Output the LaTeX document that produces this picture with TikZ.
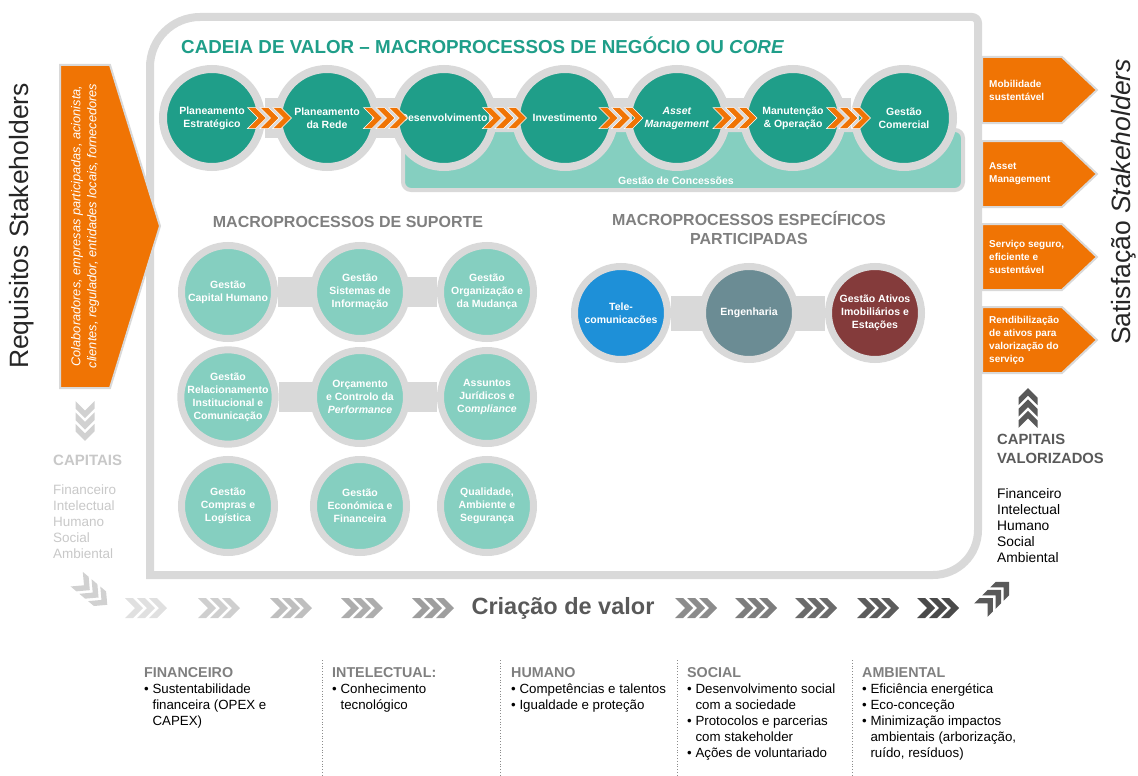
\documentclass[tikz,border=0pt]{standalone}
\usepackage{fontspec}
\setmainfont{Liberation Sans}
\usetikzlibrary{calc,backgrounds}
\definecolor{teal1}{HTML}{1F9E89}
\definecolor{teal2}{HTML}{85CFC0}
\definecolor{ring}{HTML}{D9D9D9}
\definecolor{orng}{HTML}{F07404}
\definecolor{telblue}{HTML}{1E90D8}
\definecolor{slate}{HTML}{6B8C94}
\definecolor{wine}{HTML}{843B3B}
\definecolor{txtgray}{HTML}{7F7F7F}
\definecolor{dgray}{HTML}{595959}
\definecolor{lgray}{HTML}{C8C8C8}
\newcommand{\itm}{\textbullet\ }
\newcommand{\ind}{\phantom{\textbullet\ }}
\newcommand{\hdr}{\bfseries\color{txtgray}\fontsize{14.3}{16}\selectfont}

\begin{document}
\begin{tikzpicture}[x=1pt,y=-1pt,
	core/.style={circle,fill=teal1,draw=ring,line width=8pt,minimum size=98pt,inner sep=0pt,text=white,align=center,font=\bfseries\fontsize{10.5}{13}\selectfont},
	supp/.style={core,fill=teal2,line width=7pt,minimum size=93pt},
	band/.style={draw=ring,line width=#1},
	frame/.style={draw=ring,line width=8pt},
	inarr/.style={fill=orng,draw=ring,line width=2pt},
	outtxt/.style={anchor=west,inner sep=0pt,text=white,align=left,font=\bfseries\fontsize{10}{13}\selectfont},
	head/.style={text=txtgray,align=center,font=\bfseries\fontsize{16}{19}\selectfont},
	col/.style={anchor=north west,inner sep=0pt,align=left,font=\fontsize{13.3}{16}\selectfont},
	chevs/.pic={\foreach \d in {-12,0,12} \path[pic actions] (\d-9,-10) -- (\d-1,-10) -- (\d+9,0) -- (\d-1,10) -- (\d-9,10) -- (\d+1,0) -- cycle;}]
\useasboundingbox (0,0) rectangle (1138,776);
\draw[frame] (150,575) -- (150,67) arc[start angle=180,end angle=270,radius=50] -- (972,17) arc[start angle=270,end angle=360,radius=6] -- (978,530) arc[start angle=0,end angle=90,radius=45] -- cycle;
\node[anchor=west,inner sep=0pt,text=teal1,font=\bfseries\fontsize{18.8}{22}\selectfont] (title) at (181,45) {CADEIA DE VALOR – MACROPROCESSOS DE NEGÓCIO OU \textit{CORE}};

\foreach \x/\t [count=\i] in {212/{Planeamento\\Estratégico},327/{Planeamento\\da Rede},444/Desenvolvimento,565/Investimento,677/{\textit{Asset}\\\textit{Management}},793/{Manutenção\\\& Operação},904/{Gestão\\Comercial}}
	\node[core] (c\i) at (\x,118) {\t};
\foreach \i in {1,...,6}{\pgfmathtruncatemacro\j{\i+1}
	\pic[fill=orng,draw=white,line width=.5pt,scale=1.05] at ($(c\i.east)!.5!(c\j.west)$) {chevs};}
\node[text=white,font=\bfseries\fontsize{10.5}{12}\selectfont] (conc) at (676,181) {Gestão de Concessões};

\node[head] (suphead) at (348,222) {MACROPROCESSOS DE SUPORTE};
\foreach \x/\y/\t [count=\i] in {228/292/{Gestão\\Capital Humano},360/292/{Gestão\\Sistemas de\\Informação},487/292/{Gestão\\Organização e\\da Mudança},228/397/{Gestão\\Relacionamento\\Institucional e\\Comunicação},360/397/{Orçamento\\e Controlo da\\\textit{Performance}},487/397/{Assuntos\\Jurídicos e\\Co\textit{mpliance}},228/506/{Gestão\\Compras e\\Logística},360/506/{Gestão\\Económica e\\Financeira},487/506/{Qualidade,\\Ambiente e\\Segurança}}
	\node[supp] (s\i) at (\x,\y) {\t};

\node[head] (parthead) at (749,228) {MACROPROCESSOS ESPECÍFICOS\\PARTICIPADAS};
\foreach \x/\c/\t [count=\i] in {621/telblue/{Tele-\\comunicacões},749/slate/Engenharia,875/wine/{Gestão Ativos\\Imobiliários e\\Estações}}
	\node[supp,fill=\c] (p\i) at (\x,313) {\t};

\begin{scope}[on background layer]
\draw[band=40pt] (c1) -- (c7);
\draw[fill=teal2,draw=ring,line width=4pt,rounded corners=8pt] (403,130) rectangle (963,190);
\draw[band=30pt] (s1) -- (s3) (s4) -- (s6);
\draw[band=35pt] (p1) -- (p3);
\end{scope}

\node[rotate=90,text=black!85,font=\fontsize{26.5}{30}\selectfont] (req) at (22,226) {Requisitos Stakeholders};
\draw[inarr] (60,65) -- (110,65) -- (160,226) -- (110,388) -- (60,388) -- cycle;
\node[rotate=90,text=white,align=center,font=\itshape\fontsize{12.8}{16}\selectfont] (stk) at (85,226) {Colaboradores, empresas participadas, acionista,\\clientes, regulador, entidades locais, fornecedores};
\pic[fill=black!18,rotate=-90,scale=.95] at (85,421) {chevs};
\node[anchor=west,inner sep=0pt,text=lgray,font=\bfseries\fontsize{15}{17}\selectfont] (capin) at (53,460) {CAPITAIS};
\node[col,text=lgray,font=\fontsize{13.5}{16}\selectfont] (capinlist) at (53,485) {Financeiro\\Intelectual\\Humano\\Social\\Ambiental};
\pic[fill=black!18,rotate=-40,scale=.95] at (92,592) {chevs};

\foreach \y/\t [count=\i] in {90/{Mobilidade\\sustentável},174/{Asset\\Management},257/{Serviço seguro,\\eficiente e\\sustentável},340/{Rendibilização\\de ativos para\\valorização do\\serviço}}{
	\draw[inarr] (982,\y-33) -- (1062,\y-33) -- (1097,\y) -- (1062,\y+33) -- (982,\y+33) -- cycle;
	\node[outtxt] (out\i) at (989,\y) {\t};}
\node[rotate=90,text=black!85,font=\fontsize{26.5}{30}\selectfont] (sat) at (1124,202) {Satisfação \textit{Stakeholders}};
\pic[fill=dgray,rotate=90,scale=.95] at (1028,408) {chevs};
\node[col,text=dgray,font=\bfseries\fontsize{14.8}{19}\selectfont] (capout) at (997,434) {CAPITAIS\\VALORIZADOS};
\node[col,font=\fontsize{13.8}{16}\selectfont] (capoutlist) at (997,488) {Financeiro\\Intelectual\\Humano\\Social\\Ambiental};
\pic[fill=dgray,rotate=45,scale=.95] at (995,596) {chevs};

\foreach \x [count=\i, evaluate=\i as \g using int(6+6.5*\i)] in {146,219,291,362,433,696,756,816,878,938}
	\pic[fill=black!\g] at (\x,608) {chevs};
\node[text=dgray,font=\bfseries\fontsize{23.5}{26}\selectfont] (cv) at (563,608) {Criação de valor};

\foreach \x in {322,500,677,852}
	\draw[black!45,dotted,line width=.8pt] (\x,660) -- (\x,776);
\node[col] (fin) at (144,667) {{\hdr FINANCEIRO}\\\itm Sustentabilidade\\\ind financeira (OPEX e\\\ind CAPEX)};
\node[col] (int) at (332,667) {{\hdr INTELECTUAL:}\\\itm Conhecimento\\\ind tecnológico};
\node[col] (hum) at (511,667) {{\hdr HUMANO}\\\itm Competências e talentos\\\itm Igualdade e proteção};
\node[col] (soc) at (687,667) {{\hdr SOCIAL}\\\itm Desenvolvimento social\\\ind com a sociedade\\\itm Protocolos e parcerias\\\ind com stakeholder\\\itm Ações de voluntariado};
\node[col] (amb) at (862,667) {{\hdr AMBIENTAL}\\\itm Eficiência energética\\\itm Eco-conceção\\\itm Minimização impactos\\\ind ambientais (arborização,\\\ind ruído, resíduos)};
\end{tikzpicture}
\end{document}
